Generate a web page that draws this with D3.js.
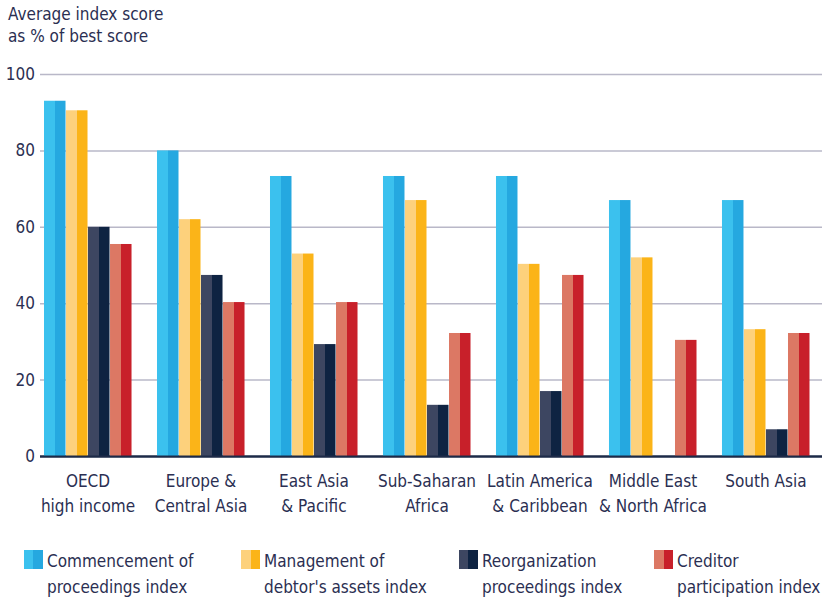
<!DOCTYPE html>
<html><head><meta charset="utf-8">
<script src="https://cdn.jsdelivr.net/npm/d3@7"></script>
<style>
body{margin:0;background:#fff;}
text{font-family:"Liberation Sans Narrow","DejaVu Sans Condensed","Roboto",sans-serif;fill:#2b2f52;}
</style></head>
<body><svg id="c" width="825" height="600"></svg>
<script>
const categories = [["OECD","high income"],["Europe &","Central Asia"],["East Asia","& Pacific"],["Sub-Saharan","Africa"],["Latin America","& Caribbean"],["Middle East","& North Africa"],["South Asia",""]];
const seriesNames = [["Commencement of","proceedings index"],["Management of","debtor's assets index"],["Reorganization","proceedings index"],["Creditor","participation index"]];
const commencement = [93, 80, 73.3, 73.3, 73.3, 67, 67];
const management = [90.5, 62, 53, 67, 50.3, 52, 33.2];
const reorganization = [60, 47.4, 29.3, 13.4, 17, 0, 7];
const creditor = [55.5, 40.3, 40.3, 32.2, 47.4, 30.4, 32.2];
const yTicks = [0, 20, 40, 60, 80, 100];
const colorsLight = ["#3bc1ee","#fdd17c","#3d4661","#dc7864"];
const colorsDark = ["#25a8e0","#fbb418","#0e2342","#c8202a"];

const series = [commencement, management, reorganization, creditor];
const svg = d3.select("#c");
const y = d3.scaleLinear().domain([0,100]).range([456,74]);
const x0 = d3.scaleBand().domain(d3.range(categories.length)).range([44,810]).paddingInner(0.221).paddingOuter(0);
const x1 = d3.scaleBand().domain(d3.range(series.length)).range([0, x0.bandwidth()]);

// gradients
const defs = svg.append("defs");
series.forEach((s,i)=>{
  const g = defs.append("linearGradient").attr("id","g"+i).attr("x1","0").attr("x2","1").attr("y1","0").attr("y2","0");
  g.append("stop").attr("offset","0").attr("stop-color",colorsLight[i]);
  g.append("stop").attr("offset","0.5").attr("stop-color",colorsLight[i]);
  g.append("stop").attr("offset","0.5").attr("stop-color",colorsDark[i]);
  g.append("stop").attr("offset","1").attr("stop-color",colorsDark[i]);
});

// title
svg.append("text").attr("x",8).attr("y",20).attr("font-size",17).text("Average index score");
svg.append("text").attr("x",8).attr("y",42).attr("font-size",17).text("as % of best score");

// grid
const yAxis = d3.axisLeft(y).tickValues(yTicks).tickSize(-782).tickPadding(5);
const ga = svg.append("g").attr("transform","translate(40,0)").call(yAxis);
ga.select(".domain").remove();
ga.selectAll(".tick line").attr("stroke", d=> d===0 ? "#1d2a48" : "#b9b8c8").attr("stroke-width", d=> d===0?2:1.5);
ga.selectAll(".tick text").attr("font-size",17).attr("fill","#2b2f52").style("font-family",'"Liberation Sans Narrow","DejaVu Sans Condensed",sans-serif');

// bars
const groups = svg.append("g").selectAll("g").data(categories).join("g")
  .attr("transform",(d,i)=>`translate(${x0(i)},0)`);
groups.selectAll("rect").data((d,i)=>series.map((s,j)=>({j, v:s[i]}))).join("rect")
  .attr("x",d=>x1(d.j)).attr("width",x1.bandwidth()-0.5)
  .attr("y",d=>y(d.v)).attr("height",d=>y(0)-y(d.v))
  .attr("fill",d=>`url(#g${d.j})`);

// redraw baseline on top
svg.append("line").attr("x1",40).attr("x2",822).attr("y1",y(0)+0.5).attr("y2",y(0)+0.5).attr("stroke","#1d2a48").attr("stroke-width",2);

// category labels
const cl = svg.append("g").selectAll("text").data(categories).join("text")
  .attr("text-anchor","middle").attr("font-size",17)
  .attr("x",(d,i)=>x0(i)+x0.bandwidth()/2);
cl.append("tspan").attr("y",487).text(d=>d[0]).attr("x",(d,i)=>x0(i)+x0.bandwidth()/2);
cl.append("tspan").attr("y",512).text(d=>d[1]).attr("x",(d,i)=>x0(i)+x0.bandwidth()/2);

// legend
const legX = [24, 241, 459, 654];
const lg = svg.append("g").selectAll("g").data(seriesNames).join("g")
  .attr("transform",(d,i)=>`translate(${legX[i]},550)`);
lg.append("rect").attr("width",19).attr("height",19).attr("fill",(d,i)=>`url(#g${i})`);
lg.append("text").attr("x",23).attr("y",17).attr("font-size",17).text(d=>d[0]);
lg.append("text").attr("x",23).attr("y",43).attr("font-size",17).text(d=>d[1]);
</script></body></html>
